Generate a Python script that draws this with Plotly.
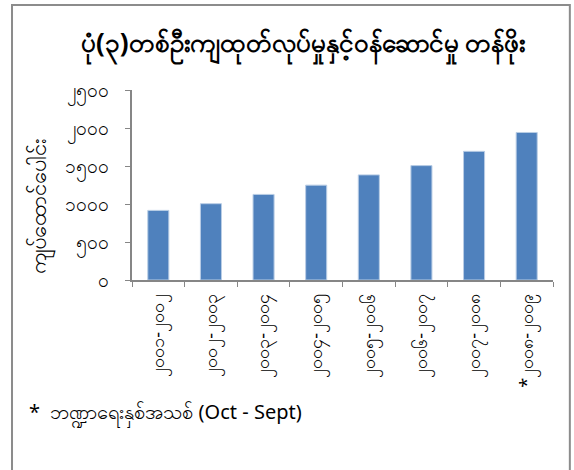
import plotly.graph_objects as go

# ဘဏ္ဍာရေးနှစ်များ
years = ["၂၀၀၁-၂၀၀၂", "၂၀၀၂-၂၀၀၃", "၂၀၀၃-၂၀၀၄", "၂၀၀၄-၂၀၀၅",
         "၂၀၀၅-၂၀၀၆", "၂၀၀၆-၂၀၀၇", "၂၀၀၇-၂၀၀၈", "*၂၀၀၈-၂၀၀၉"]
values = [916, 1004, 1126, 1248, 1383, 1505, 1693, 1941]
y_ticks = [0, 500, 1000, 1500, 2000, 2500]
y_tick_text = ["၀", "၅၀၀", "၁၀၀၀", "၁၅၀၀", "၂၀၀၀", "၂၅၀၀"]

title = "ပုံ(၃)တစ်ဦးကျထုတ်လုပ်မှုနှင့်ဝန်ဆောင်မှု တန်ဖိုး"
y_title = "ကျပ်ထောင်ပေါင်း"
note = "*  ဘဏ္ဍာရေးနှစ်အသစ် (Oct - Sept)"

font = "Noto Sans, DejaVu Sans, sans-serif"

fig = go.Figure(go.Bar(x=years, y=values, marker_color="#4f81bd",
                       marker_line=dict(color="#b9cde5", width=1)))

fig.update_layout(
    width=574, height=470,
    margin=dict(l=132, r=21, t=90, b=190),
    paper_bgcolor="white", plot_bgcolor="white",
    bargap=0.6, showlegend=False,
    font=dict(family=font, size=14, color="black"),
)
fig.update_xaxes(
    tickangle=-90, ticks="outside", tickson="boundaries", ticklen=5,
    tickcolor="#868686", showline=True, linecolor="#868686", linewidth=1.5,
    showgrid=False, tickfont=dict(size=18), automargin=False,
    ticklabelstandoff=5,
)
fig.update_yaxes(
    range=[0, 2500], tickvals=y_ticks, ticktext=y_tick_text,
    ticks="outside", ticklen=5, tickcolor="#868686",
    showline=True, linecolor="#868686", linewidth=1.5,
    showgrid=False, zeroline=False, ticklabelstandoff=12,
    tickfont=dict(size=19), automargin=False,
)

# chart border
fig.add_shape(type="rect", xref="paper", yref="paper",
              x0=-0.285, x1=1.040, y0=-1.03, y1=1.447,
              line=dict(color="#8c8c8c", width=2))

fig.add_annotation(text="<b>" + title + "</b>", xref="paper", yref="paper",
                   x=0.405, y=1.237, xanchor="center", yanchor="middle",
                   showarrow=False, font=dict(size=26))
fig.add_annotation(text=y_title, xref="paper", yref="paper", textangle=-90,
                   x=-0.22, y=0.39, xanchor="center", yanchor="middle",
                   showarrow=False, font=dict(size=22))
fig.add_annotation(text=note, xref="paper", yref="paper",
                   x=-0.25, y=-0.70, xanchor="left", yanchor="middle",
                   showarrow=False, font=dict(size=20))

fig.write_html("out.html", config={"displayModeBar": False},
               post_script="document.body.style.margin='0';")
